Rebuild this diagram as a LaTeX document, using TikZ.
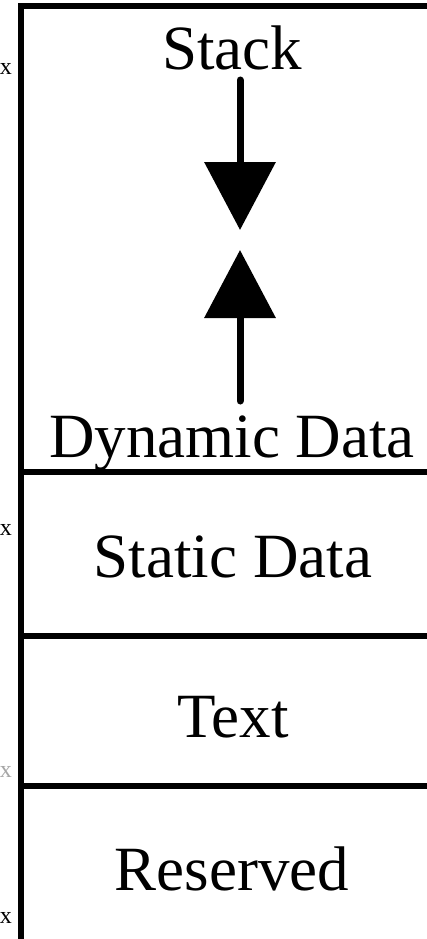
\documentclass[tikz,border=0pt]{standalone}
\usepackage{fontspec}
\setmainfont{Liberation Serif}
\usetikzlibrary{arrows.meta}
\tikzset{
  big/.style={font=\fontsize{63}{70}\selectfont, inner sep=0pt, anchor=base},
  addr/.style={font=\fontsize{24}{26}\selectfont, inner sep=0pt, anchor=base east},
  frame/.style={line width=6pt},
  growarrow/.style={line width=7pt, line cap=round, -{Triangle[width=70pt,length=68pt]}},
}
\begin{document}
\begin{tikzpicture}[x=1pt,y=-1pt]
\useasboundingbox (0,0) rectangle (427,939);
\clip (0,0) rectangle (427,939);
\fill[white] (0,0) rectangle (427,939);
% frame
\draw[frame] (460,6) -- (21,6) -- (21,942) -- (460,942);
\draw[frame] (21,472) -- (460,472);
\draw[frame] (21,636) -- (460,636);
\draw[frame] (21,786) -- (460,786);
% labels
\node[big] (stack) at (232,70) {Stack};
\node[big] (dyn) at (232,457) {Dynamic Data};
\node[big] (static) at (233,577) {Static Data};
\node[big] (text) at (233,737) {Text};
\node[big] (res) at (232,890) {Reserved};
% address fragments
\node[addr] (a1) at (12,75) {x};
\node[addr] (a2) at (12,535) {x};
\node[addr, text=black!35] (a3) at (12,777) {x};
\node[addr] (a4) at (12,923) {x};
% arrows
\coordinate (s1) at (240,80);
\coordinate (s2) at (240,230);
\coordinate (d1) at (240,401);
\coordinate (d2) at (240,250);
\draw[growarrow] (s1) -- (s2);
\draw[growarrow] (d1) -- (d2);
\end{tikzpicture}
\end{document}
